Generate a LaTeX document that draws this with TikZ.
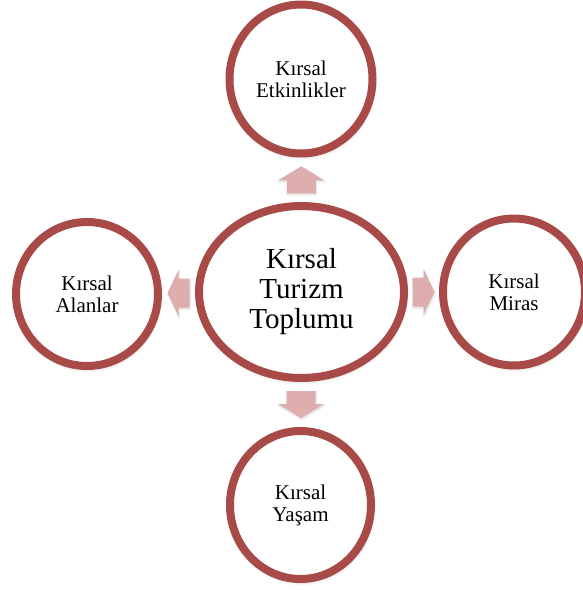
\documentclass[tikz,border=0pt]{standalone}
\usepackage{fontspec}
\setmainfont{Liberation Serif}
\usetikzlibrary{shapes.geometric,shadows.blur,calc}
\definecolor{ringred}{RGB}{168,74,71}
\definecolor{arrowpink}{RGB}{222,174,174}
\tikzset{
  ring/.style={ellipse, draw=ringred, line width=8pt, fill=white, inner sep=0pt,
    align=center, font=\fontsize{21}{22}\selectfont,
    blur shadow={shadow xshift=1pt, shadow yshift=-3pt, shadow blur radius=4pt, shadow opacity=22}},
  hub/.style={ring, font=\fontsize{29}{30}\selectfont},
  % block arrow pointing along local +x: #1 = total length, #2 = head length
  pics/blockarr/.style n args={2}{code={
    \fill[arrowpink, blur shadow={shadow xshift=0.5pt, shadow yshift=-1.5pt, shadow blur radius=2pt, shadow opacity=15}]
      ({#1/2},0) -- ({#1/2-#2},23) -- ({#1/2-#2},14.5) -- ({-#1/2},14.5)
      -- ({-#1/2},-14.5) -- ({#1/2-#2},-14.5) -- ({#1/2-#2},-23) -- cycle;
  }}
}
\begin{document}
\begin{tikzpicture}[x=1pt,y=-1pt]
  \useasboundingbox (0,0) rectangle (582,590);
  % outer topics around the central theme
  \node[ring, minimum width=143pt, minimum height=149pt] (top) at (301,79) {Kırsal\\Etkinlikler};
  \node[ring, minimum width=142pt, minimum height=144pt] (left) at (87,294) {Kırsal\\Alanlar};
  \node[ring, minimum width=142pt, minimum height=147pt] (right) at (514,292) {Kırsal\\Miras};
  \node[ring, minimum width=141pt, minimum height=148pt] (bottom) at (300.5,505) {Kırsal\\Yaşam};
  % central theme
  \node[hub, minimum width=205pt, minimum height=172pt] (hub) at (301.5,292) {Kırsal\\Turizm\\Toplumu};
  % block arrows pointing from the centre to each topic
  \coordinate (aup) at ($(hub.north)!0.5!(top.south)$);
  \coordinate (adown) at ($(hub.south)!0.5!(bottom.north)$);
  \coordinate (aleft) at ($(hub.west)!0.5!(left.east)$);
  \coordinate (aright) at ($(hub.east)!0.5!(right.west)$);
  \pic[rotate=90] at (aup) {blockarr={27}{14}};
  \pic[rotate=-90] at (adown) {blockarr={27}{14}};
  \pic[rotate=180] at (aleft) {blockarr={22}{11}};
  \pic at (aright) {blockarr={22}{11}};
\end{tikzpicture}
\end{document}
